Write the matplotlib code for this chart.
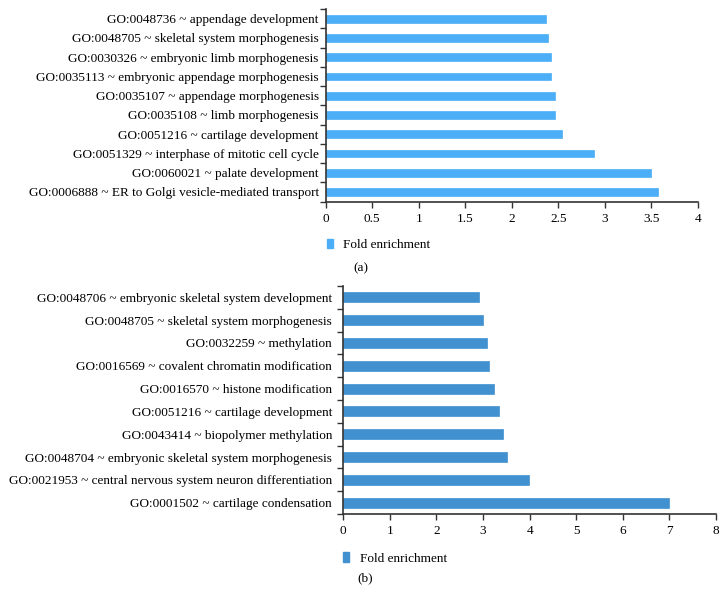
import matplotlib
matplotlib.use("Agg")
import matplotlib.pyplot as plt
from matplotlib.patches import Patch
import numpy as np

plt.rcParams['font.family'] = ['Liberation Serif', 'DejaVu Serif']

# Panel (a)
terms_a = [
    "GO:0006888 ~ ER to Golgi vesicle-mediated transport",
    "GO:0060021 ~ palate development",
    "GO:0051329 ~ interphase of mitotic cell cycle",
    "GO:0051216 ~ cartilage development",
    "GO:0035108 ~ limb morphogenesis",
    "GO:0035107 ~ appendage morphogenesis",
    "GO:0035113 ~ embryonic appendage morphogenesis",
    "GO:0030326 ~ embryonic limb morphogenesis",
    "GO:0048705 ~ skeletal system morphogenesis",
    "GO:0048736 ~ appendage development",
]
fold_a = [3.57, 3.50, 2.88, 2.54, 2.46, 2.46, 2.42, 2.42, 2.39, 2.37]
xticks_a = [0, 0.5, 1, 1.5, 2, 2.5, 3, 3.5, 4]
xticklabels_a = ["0", "0.5", "1", "1.5", "2", "2.5", "3", "3.5", "4"]

# Panel (b)
terms_b = [
    "GO:0001502 ~ cartilage condensation",
    "GO:0021953 ~ central nervous system neuron differentiation",
    "GO:0048704 ~ embryonic skeletal system morphogenesis",
    "GO:0043414 ~ biopolymer methylation",
    "GO:0051216 ~ cartilage development",
    "GO:0016570 ~ histone modification",
    "GO:0016569 ~ covalent chromatin modification",
    "GO:0032259 ~ methylation",
    "GO:0048705 ~ skeletal system morphogenesis",
    "GO:0048706 ~ embryonic skeletal system development",
]
fold_b = [6.98, 3.99, 3.51, 3.42, 3.34, 3.23, 3.12, 3.08, 3.01, 2.91]
xticks_b = [0, 1, 2, 3, 4, 5, 6, 7, 8]
xticklabels_b = ["0", "1", "2", "3", "4", "5", "6", "7", "8"]

legend_label = "Fold enrichment"
color_a = "#4BAEF6"
color_b = "#4191D0"

fig = plt.figure(figsize=(7.27, 6.07), dpi=100)

def draw(ax, terms, vals, xticks, xtl, color, barh, fs, pad):
    y = np.arange(len(terms))
    ax.barh(y, vals, height=barh, color=color, edgecolor=color, linewidth=0.5)
    ax.set_ylim(-0.5, len(terms) - 0.5)
    ax.set_xlim(xticks[0], xticks[-1])
    ax.set_yticks(y)
    ax.set_yticklabels(terms, fontsize=fs)
    ax.set_yticks(np.arange(len(terms) + 1) - 0.5, minor=True)
    ax.tick_params(axis='y', which='major', length=0, pad=pad)
    ax.tick_params(axis='y', which='minor', length=4, width=1, color='#333333')
    ax.set_xticks(xticks)
    ax.set_xticklabels(xtl, fontsize=fs)
    ax.tick_params(axis='x', length=4, width=1, color='#333333', pad=4)
    for s in ['top', 'right']:
        ax.spines[s].set_visible(False)
    for s in ['left', 'bottom']:
        ax.spines[s].set_color('#333333')
        ax.spines[s].set_linewidth(1.2)

ax1 = fig.add_axes([0.448, 0.668, 0.512, 0.317])
draw(ax1, terms_a, fold_a, xticks_a, xticklabels_a, color_a, 0.40, 9.5, 5)
ax1.legend(handles=[Patch(color=color_a, label=legend_label)], frameon=False,
           loc='center left', bbox_to_anchor=(0.434, 0.597), bbox_transform=fig.transFigure,
           handlelength=0.45, handleheight=0.7, handletextpad=0.7, fontsize=9.5)
fig.text(0.497, 0.558, "(a)", ha='center', va='center', fontsize=9.5)

ax2 = fig.add_axes([0.472, 0.153, 0.513, 0.376])
draw(ax2, terms_b, fold_b, xticks_b, xticklabels_b, color_b, 0.44, 9.5, 8)
ax2.legend(handles=[Patch(color=color_b, label=legend_label)], frameon=False,
           loc='center left', bbox_to_anchor=(0.456, 0.080), bbox_transform=fig.transFigure,
           handlelength=0.45, handleheight=0.7, handletextpad=0.8, fontsize=9.5)
fig.text(0.503, 0.047, "(b)", ha='center', va='center', fontsize=9.5)

fig.savefig("out.png", dpi=100)
